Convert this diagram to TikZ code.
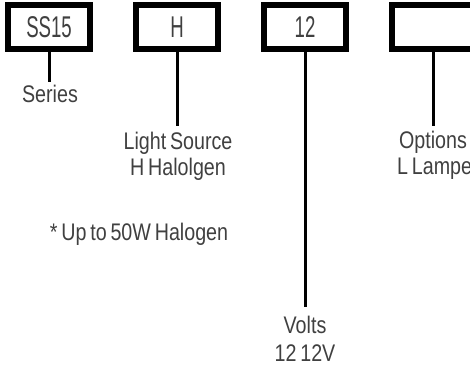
\documentclass[tikz,border=0pt]{standalone}
\usepackage{fontspec}
\newfontfamily\labfont[FakeStretch=0.82,WordSpace=0.7]{Liberation Sans}
\newfontfamily\boxfont[FakeStretch=0.62]{Liberation Sans}
\definecolor{txt}{HTML}{404040}
\begin{document}
\begin{tikzpicture}[x=1pt,y=1pt,
  codebox/.style={draw=black,line width=6pt,minimum width=82pt,minimum height=44pt,
    inner sep=0pt,text=txt,font=\boxfont\fontsize{30}{32}\selectfont},
  lab/.style={anchor=base,inner sep=0pt,text=txt,font=\labfont\fontsize{24}{28}\selectfont},
  stem/.style={line width=3pt}]
\useasboundingbox (0,0) rectangle (470,368);
\fill[white] (0,0) rectangle (470,368);
% boxes
\node[codebox] (b1) at (49,341) {SS15};
\node[codebox] (b2) at (177,341) {H};
\node[codebox] (b3) at (305,341) {12};
\node[codebox] (b4) at (433,341) {};
% stem ends
\coordinate (e1) at (49,286);
\coordinate (e2) at (177,242);
\coordinate (e3) at (305,61);
\coordinate (e4) at (433,242);
\draw[stem] (b1.south) -- (e1);
\draw[stem] (b2.south) -- (e2);
\draw[stem] (b3.south) -- (e3);
\draw[stem] (b4.south) -- (e4);
% labels
\node[lab] (l1) at (50,266) {Series};
\node[lab] (l2a) at (178,219) {Light Source};
\node[lab] (l2b) at (178,193) {H Halolgen};
\node[lab] (note) at (139,128) {* Up to 50W Halogen};
\node[lab] (l3a) at (305,35) {Volts};
\node[lab] (l3b) at (305,7) {12 12V};
\node[lab] (l4a) at (433,220) {Options};
\node[lab,anchor=base west] (l4b) at (397,194) {L Lamped};
\end{tikzpicture}
\end{document}
